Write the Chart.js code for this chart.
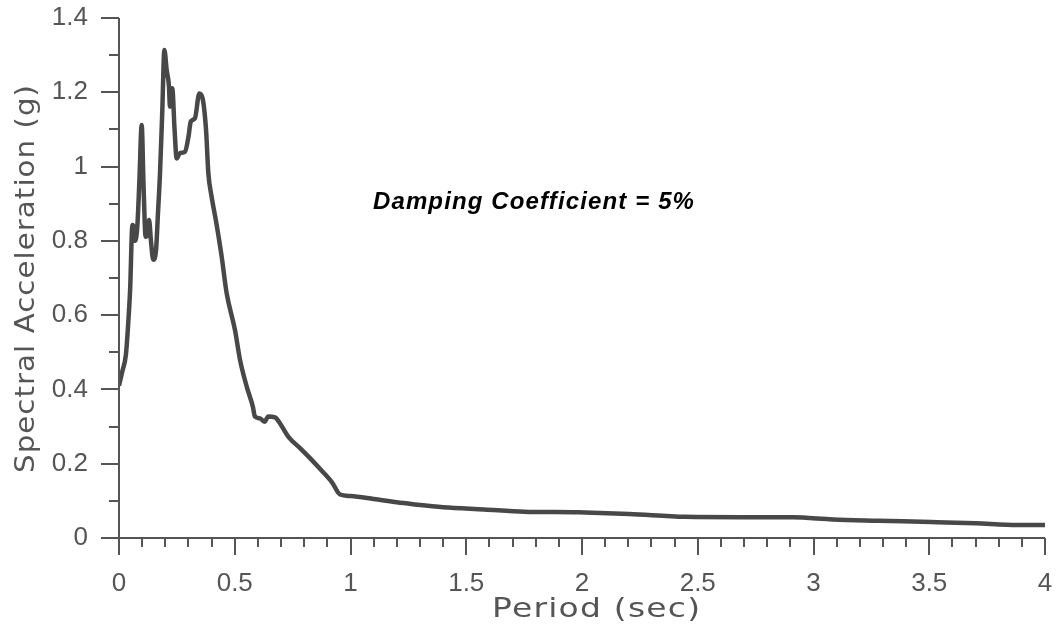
<!DOCTYPE html>
<html lang="en">
<head>
<meta charset="UTF-8">
<title>Response Spectrum</title>
<script src="https://cdn.jsdelivr.net/npm/chart.js"></script>
<style>
  html, body { margin: 0; padding: 0; background: #fff; }
  #wrap { width: 1057px; height: 628px; position: relative; }
</style>
</head>
<body>
<div id="wrap"><canvas id="spectrumChart"></canvas></div>
<script>
// acceleration response spectrum, 5% damping
const periods = [
  0.000, 0.015, 0.030, 0.040, 0.048, 0.058, 0.064, 0.069, 0.079, 0.088,
  0.098, 0.106, 0.115, 0.122, 0.130, 0.138, 0.148, 0.160, 0.168, 0.177,
  0.187, 0.196, 0.206, 0.216, 0.220, 0.230, 0.240, 0.249, 0.263, 0.285,
  0.300, 0.310, 0.328, 0.347, 0.361, 0.376, 0.386, 0.400, 0.420, 0.443,
  0.465, 0.501, 0.523, 0.552, 0.578, 0.587, 0.609, 0.628, 0.645, 0.674,
  0.695, 0.731, 0.782, 0.825, 0.870, 0.920, 0.955, 1.000, 1.100, 1.200,
  1.270, 1.400, 1.577, 1.750, 1.983, 2.204, 2.445, 2.700, 2.910, 3.084,
  3.277, 3.508, 3.700, 3.880, 4.000
];
const spectralAcc = [
  0.410, 0.450, 0.495, 0.580, 0.668, 0.843, 0.835, 0.800, 0.838, 0.960,
  1.112, 0.950, 0.811, 0.815, 0.856, 0.800, 0.749, 0.775, 0.870, 0.980,
  1.150, 1.314, 1.260, 1.215, 1.161, 1.211, 1.100, 1.022, 1.036, 1.040,
  1.080, 1.121, 1.130, 1.197, 1.184, 1.099, 0.982, 0.919, 0.850, 0.760,
  0.659, 0.560, 0.479, 0.407, 0.354, 0.327, 0.322, 0.313, 0.327, 0.325,
  0.309, 0.273, 0.242, 0.215, 0.185, 0.150, 0.117, 0.113, 0.105, 0.096,
  0.091, 0.083, 0.077, 0.071, 0.069, 0.0646, 0.057, 0.056, 0.0557, 0.050,
  0.0466, 0.043, 0.0395, 0.035, 0.035
];
const xTicks = [0, 0.5, 1, 1.5, 2, 2.5, 3, 3.5, 4];
const xTickLabels = ['0', '0.5', '1', '1.5', '2', '2.5', '3', '3.5', '4'];
const yTicks = [0, 0.2, 0.4, 0.6, 0.8, 1, 1.2, 1.4];
const yTickLabels = ['0', '0.2', '0.4', '0.6', '0.8', '1', '1.2', '1.4'];
const xTitle = 'Period (sec)';
const yTitle = 'Spectral Acceleration (g)';
const noteText = 'Damping Coefficient = 5%';

const axisColor = '#555555';
const fontFamily = '"Liberation Sans", Arial, sans-serif';
const titleFamily = '"DejaVu Sans", sans-serif';

// spread the letters so the string covers the given width
function fitText(ctx, text, width) {
  ctx.letterSpacing = '0px';
  const w = ctx.measureText(text).width;
  ctx.letterSpacing = ((width - w) / (text.length - 1)) + 'px';
}

// wide title: small letter spacing, then stretch the glyphs to the width
function drawWide(ctx, text, x0, y0, width) {
  ctx.letterSpacing = '1px';
  const w = ctx.measureText(text).width - 1;
  ctx.save();
  ctx.translate(x0, y0);
  ctx.scale(width / w, 1);
  ctx.fillText(text, 0, 0);
  ctx.restore();
}

const axesDecor = {
  id: 'axesDecor',
  afterDraw(chart) {
    const { ctx, chartArea: a, scales: { x, y } } = chart;
    ctx.save();
    ctx.strokeStyle = axisColor;
    ctx.lineWidth = 2;
    ctx.beginPath();
    // axis lines
    ctx.moveTo(a.left, a.top);
    ctx.lineTo(a.left, a.bottom);
    ctx.moveTo(a.left, a.bottom);
    ctx.lineTo(a.right, a.bottom);
    // x ticks, minor every 0.1
    for (let i = 0; i <= 40; i++) {
      const px = Math.round(x.getPixelForValue(i / 10));
      const len = i % 5 === 0 ? 17 : 9;
      ctx.moveTo(px, a.bottom);
      ctx.lineTo(px, a.bottom + len);
    }
    // y ticks, minor every 0.1
    for (let i = 0; i <= 14; i++) {
      const py = Math.round(y.getPixelForValue(i / 10));
      const len = i % 2 === 0 ? 18 : 10;
      ctx.moveTo(a.left, py);
      ctx.lineTo(a.left - len, py);
    }
    ctx.stroke();

    // axis titles
    ctx.fillStyle = axisColor;
    ctx.textBaseline = 'alphabetic';
    ctx.textAlign = 'left';
    ctx.font = '27px ' + titleFamily;
    drawWide(ctx, xTitle, 492, 617, 208);

    ctx.save();
    ctx.translate(34, 279);
    ctx.rotate(-Math.PI / 2);
    drawWide(ctx, yTitle, -194, 0, 388);
    ctx.restore();

    // damping note
    ctx.fillStyle = '#000';
    ctx.font = 'italic bold 24px ' + fontFamily;
    fitText(ctx, noteText, 321);
    ctx.fillText(noteText, x.getPixelForValue(1.097), y.getPixelForValue(0.885));
    ctx.restore();
  }
};

new Chart(document.getElementById('spectrumChart'), {
  type: 'line',
  data: {
    datasets: [{
      data: periods.map((p, i) => ({ x: p, y: spectralAcc[i] })),
      borderColor: '#484848',
      borderWidth: 4.5,
      pointRadius: 0,
      cubicInterpolationMode: 'monotone',
      fill: false
    }]
  },
  options: {
    responsive: true,
    maintainAspectRatio: false,
    animation: false,
    layout: { padding: { top: 18, right: 12, left: 0, bottom: 0 } },
    plugins: { legend: { display: false }, tooltip: { enabled: false } },
    scales: {
      x: {
        type: 'linear',
        min: 0,
        max: 4,
        grid: { display: false },
        border: { display: false },
        afterBuildTicks: s => { s.ticks = xTicks.map(v => ({ value: v })); },
        afterFit: s => {
          s.height = 90;
          s.paddingLeft = 0;
          s.paddingRight = 0;
        },
        ticks: {
          callback: (v, i) => xTickLabels[i],
          color: axisColor,
          font: { family: fontFamily, size: 26 },
          padding: 22,
          maxRotation: 0,
          autoSkip: false
        }
      },
      y: {
        min: 0,
        max: 1.4,
        grid: { display: false },
        border: { display: false },
        afterBuildTicks: s => { s.ticks = yTicks.map(v => ({ value: v })); },
        afterFit: s => {
          s.width = 119;
          s.paddingTop = 0;
          s.paddingBottom = 0;
        },
        ticks: {
          callback: (v, i) => yTickLabels[i],
          color: axisColor,
          font: { family: fontFamily, size: 26 },
          padding: 23,
          autoSkip: false
        }
      }
    }
  },
  plugins: [axesDecor]
});
</script>
</body>
</html>
